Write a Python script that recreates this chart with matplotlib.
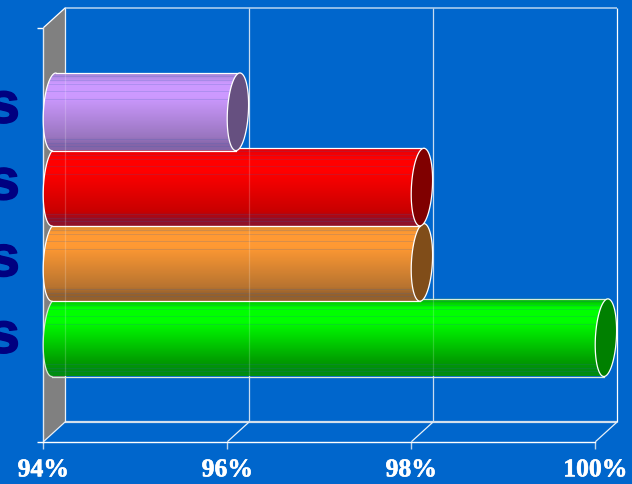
import numpy as np
import matplotlib
matplotlib.use("Agg")
import matplotlib.pyplot as plt
import matplotlib.patheffects as pe
from matplotlib.colors import LinearSegmentedColormap
from matplotlib.patches import PathPatch, Polygon
from matplotlib.path import Path
from matplotlib.transforms import ScaledTranslation

categories = ['s', 's', 's', 's']          # bottom to top (the rest of each word is cut off)
values = [100, 98, 98, 96]
x_ticks = [94, 96, 98, 100]
x_tick_labels = ['94%', '96%', '98%', '100%']

peak_colors = ['#00FF00', '#FF9933', '#FF0000', '#CC99FF']
top_colors = ['#00A800', '#D08830', '#E00008', '#A482D4']
mid_colors = ['#009C00', '#B87430', '#C80000', '#9A76C0']
low_colors = ['#008C10', '#94602C', '#901028', '#8464A8']
cap_colors = ['#008000', '#804D19', '#800000', '#665080']

W, H = 632, 485
BG = '#0066CC'
L, R, T, B = 43.4, 595.4, 28.7, 442.7      # front plane of the 3D box, in pixels
PX_X = (R - L) / (x_ticks[-1] - x_ticks[0])
PX_Y = 75.3
Y0_PX = 338.7
DX, DY = 22 / PX_X, 20 / PX_Y      # box depth
A, BB, SK = 10.5 / PX_X, 38.8 / PX_Y, 2 / PX_X   # ellipse radii and skew

fig = plt.figure(figsize=(W / 100, H / 100), dpi=100, facecolor=BG)
ax = fig.add_axes([L / W, 1 - B / H, (R - L) / W, (B - T) / H], facecolor='none')
xlim = (x_ticks[0], x_ticks[-1])
ylim = ((Y0_PX - B) / PX_Y, (Y0_PX - T) / PX_Y)

x0, x1 = xlim
y0, y1 = ylim
# left wall
ax.add_patch(Polygon([(x0, y0), (x0 + DX, y0 + DY), (x0 + DX, y1 + DY), (x0, y1)],
                     closed=True, fc='#808080', ec='none', zorder=1, clip_on=False))
line = dict(clip_on=False, zorder=2, solid_capstyle='butt')
ax.plot([x0 + DX, x1 + DX], [y1 + DY, y1 + DY], color='#B8D4F0', lw=1.1, **line)
ax.plot([x1 + DX, x1 + DX], [y0 + DY, y1 + DY], color='white', lw=0.9, **line)
ax.plot([x0 + DX, x1 + DX], [y0 + DY, y0 + DY], color='#D4E0EC', lw=1.6, **line)
ax.plot([x0 + DX, x0 + DX], [y0 + DY, y1 + DY], color='#E8F0F8', lw=0.9, **line)
for t in x_ticks:
    ax.plot([t, t + DX], [y0, y0 + DY], color='#E8F0F8', lw=0.9, **line)
    if t not in (x_ticks[0], x_ticks[-1]):
        ax.plot([t + DX, t + DX], [y0 + DY, y1 + DY], color='#C8DCF0', lw=0.9, **line)
ax.plot([x0, x0 + DX], [y1, y1 + DY], color='white', lw=0.9, **line)
ax.plot([x0 - 6 / PX_X, x0], [y1, y1], color='white', lw=1, **line)
ax.plot([x0 - 6 / PX_X, x0], [y0, y0], color='white', lw=1, **line)

STRIPES = [3, 7, 11, 18, 26, 66, 70, 73]
theta = np.linspace(0, 2 * np.pi, 120)


def edge(cx, cy, t):
    return cx + A * np.cos(t) + SK * np.sin(t), cy + BB * np.sin(t)


for i, v in enumerate(values):
    cy = float(i)
    xs, xe = x0 + A, v + A
    tl = np.linspace(np.pi / 2, 3 * np.pi / 2, 60)
    tr = np.linspace(-np.pi / 2, np.pi / 2, 60)
    lx, ly = edge(xs, cy, tl)
    rx, ry = edge(xe, cy, tr)
    verts = np.column_stack([np.r_[lx, rx], np.r_[ly, ry]])
    body = PathPatch(Path(np.vstack([verts, verts[0]]), closed=True), fc='none',
                     ec='none', transform=ax.transData, zorder=3 + i * 3, clip_on=False)
    ax.add_patch(body)
    cmap = LinearSegmentedColormap.from_list(
        f'c{i}', [(0, top_colors[i]), (0.12, peak_colors[i]), (0.3, peak_colors[i]),
                  (0.82, mid_colors[i]), (0.93, low_colors[i]), (1, low_colors[i])])
    rows = cmap(np.linspace(0, 1, 78))[:, :3]
    bgc = np.array(matplotlib.colors.to_rgb('#3060B0'))
    for s in STRIPES:
        rows[s] = rows[s] * 0.82 + bgc * 0.18
    im = ax.imshow(rows[:, None, :], aspect='auto', interpolation='nearest',
                   extent=(x0, xe + 2 * A, cy - BB, cy + BB), origin='upper',
                   zorder=3 + i * 3, clip_on=True)
    im.set_clip_box(fig.bbox)
    im.set_clip_path(body)
    for t in [x0 + DX] + [k + DX for k in x_ticks[1:-1]]:
        if t < xe:
            g, = ax.plot([t, t], [cy - BB, cy + BB], color='white', alpha=0.18, lw=0.9,
                         zorder=3 + i * 3 + 0.5)
            g.set_clip_box(fig.bbox)
            g.set_clip_path(body)
    edge_col = '#D8ECD8' if i == 0 else 'white'
    ax.plot(lx, ly, color=edge_col, lw=0.9, zorder=4 + i * 3, clip_on=False)
    ax.plot([lx[0], rx[-1]], [ly[0], ry[-1]], color=edge_col, lw=0.9, zorder=4 + i * 3, clip_on=False)
    ax.plot([lx[-1], rx[0]], [ly[-1], ry[0]], color=edge_col, lw=0.9, zorder=4 + i * 3, clip_on=False)
    ex, ey = edge(xe, cy, theta)
    ax.fill(ex, ey, fc=cap_colors[i], ec='white', lw=0.9, zorder=5 + i * 3, clip_on=False)

ax.set_xlim(xlim)
ax.set_ylim(ylim)
ax.set_xticks(x_ticks)
ax.set_xticklabels(x_tick_labels, family='Liberation Serif', fontweight='bold',
                   fontsize=18.5, color='white',
                   path_effects=[pe.withStroke(linewidth=0.4, foreground='white')])
ax.tick_params(axis='x', length=5, width=1, color='#C0D4E8', pad=7)
ax.set_yticks(range(len(categories)))
ax.set_yticklabels(categories, family='Liberation Sans', fontweight='bold',
                   fontsize=42, color='#000080', va='center',
                   path_effects=[pe.withStroke(linewidth=1.0, foreground='#000080')])
ax.tick_params(axis='y', length=0, pad=17)
for i, lab in enumerate(ax.get_yticklabels()):
    lab.set_transform(lab.get_transform() + ScaledTranslation(0, i * 1.0 / 72, fig.dpi_scale_trans))
for s in ('top', 'right'):
    ax.spines[s].set_visible(False)
ax.spines['bottom'].set_color('white')
ax.spines['bottom'].set_linewidth(1)
ax.spines['bottom'].set_zorder(2)
ax.spines['left'].set_color('#E0E8F0')
ax.spines['left'].set_linewidth(1)
ax.spines['left'].set_zorder(2)

fig.savefig('out.png', dpi=100, facecolor=BG)
